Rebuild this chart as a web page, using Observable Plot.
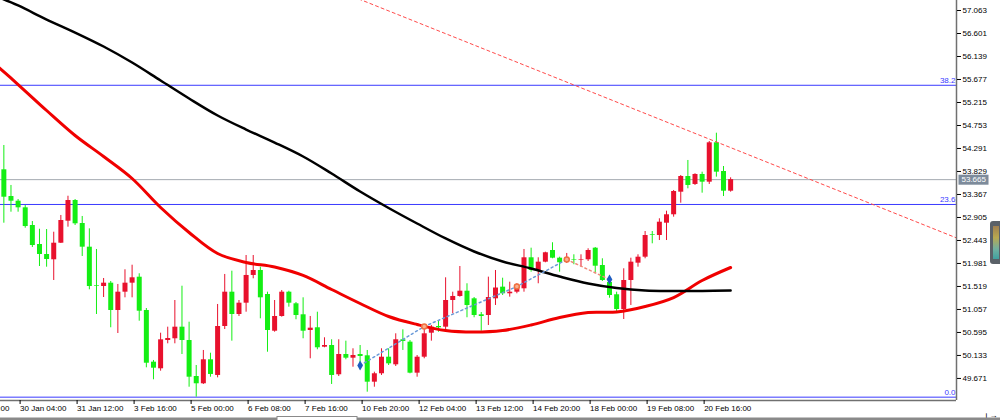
<!DOCTYPE html>
<html><head><meta charset="utf-8">
<script src="https://cdn.jsdelivr.net/npm/d3@7"></script>
<script src="https://cdn.jsdelivr.net/npm/@observablehq/plot@0.6"></script>
<style>
body{margin:0;background:#fff;}
#wrap{position:relative;width:1000px;height:420px;overflow:hidden;background:#fff;}
#wrap svg{display:block;}
#gadget{position:absolute;left:990px;top:221px;width:12px;height:43px;border-radius:3px;background:#5a6168;}
#gadget div{position:absolute;left:3px;top:5px;width:6px;height:33px;background:linear-gradient(#a08050,#b8a850 35%,#70b0a0 70%,#40a0a0);}
</style></head><body><div id="wrap"><div id="gadget"><div></div></div></div>
<script>
// ---- candles (H4 bars), first bar index = -2 ----
const firstBar = -2;
const open = [53.863,53.326,53.232,53.099,52.744,52.362,52.161,52.055,52.388,52.830,
53.246,52.784,52.308,51.532,51.518,51.585,51.036,51.404,51.585,51.705,
51.036,49.998,49.865,50.433,50.468,50.701,50.433,49.710,49.564,50.046,
49.731,50.715,51.404,50.956,51.183,51.740,51.840,51.358,50.620,50.916,
51.404,51.171,50.950,50.634,50.689,50.299,50.333,49.745,50.152,50.078,
50.152,50.126,49.596,49.765,50.098,49.945,50.448,50.400,49.777,50.098,
50.580,50.715,50.701,51.237,51.318,51.424,51.271,50.950,50.936,51.271,
51.505,51.372,51.404,51.472,52.095,51.840,52.007,52.242,52.087,52.041,
52.061,52.049,52.055,52.288,51.940,51.599,51.352,51.056,51.639,51.987,
52.107,52.557,52.543,52.790,52.959,53.413,53.728,53.568,53.769,53.614,
54.405,53.829,53.433];
const high = [54.351,53.548,53.266,53.145,52.824,52.669,52.663,52.609,52.945,53.332,
53.266,52.925,52.677,52.262,51.679,51.619,51.559,51.854,51.946,51.774,
51.076,50.032,50.580,50.701,51.237,51.524,50.801,49.931,50.233,50.178,
51.157,51.760,51.826,51.237,52.141,52.141,51.906,51.404,51.237,51.438,
51.424,51.197,51.291,50.916,51.002,50.488,50.448,50.448,50.420,50.267,
50.333,50.233,49.797,50.267,50.267,50.568,50.648,50.433,50.132,50.735,
50.735,50.835,51.693,51.404,51.920,51.573,51.297,50.996,51.706,51.840,
51.685,51.605,51.573,52.262,52.288,52.095,52.208,52.397,52.107,52.182,
52.155,52.155,52.276,52.302,52.075,51.740,51.404,51.874,52.087,52.155,
52.623,52.623,52.879,53.031,53.447,53.748,54.050,53.783,53.815,54.431,
54.598,53.929,53.702];
const low = [52.790,53.011,53.011,52.689,52.302,51.920,51.906,51.639,52.382,52.710,
52.744,52.121,51.452,50.956,51.297,50.689,50.574,51.291,51.291,50.821,
49.885,49.644,49.817,50.367,50.367,50.152,49.495,49.295,49.550,49.696,
49.683,50.654,50.420,50.916,51.002,51.673,50.869,50.198,50.600,50.902,
51.103,50.850,50.468,50.066,50.247,50.287,49.550,49.710,50.046,49.897,
49.845,49.395,49.495,49.731,49.931,49.911,50.233,49.764,49.696,50.066,
50.420,50.600,50.648,50.970,51.304,50.890,50.890,50.620,50.735,51.137,
51.338,51.304,51.372,51.404,51.806,51.573,51.995,52.075,51.806,51.981,
51.955,51.906,52.021,51.773,51.619,51.283,51.016,50.855,51.137,51.906,
52.075,52.376,52.442,52.442,52.911,53.192,53.481,53.548,53.393,53.568,
53.715,53.326,53.413];
const close = [53.312,53.232,53.099,52.723,52.342,52.161,52.061,52.388,52.844,53.246,
52.778,52.308,51.518,51.518,51.585,51.036,51.404,51.585,51.693,51.022,
49.977,49.877,50.447,50.474,50.701,50.433,49.696,49.564,50.046,49.751,
50.715,51.404,50.956,51.183,51.740,51.840,51.291,50.634,50.916,51.404,
51.183,50.936,50.620,50.681,50.287,50.333,49.731,50.152,50.078,50.132,
50.112,49.596,49.765,50.098,49.965,50.448,50.414,49.777,50.098,50.568,
50.701,50.689,51.237,51.318,51.424,51.137,50.936,50.916,51.297,51.488,
51.372,51.404,51.472,52.095,51.840,52.007,52.196,52.087,51.995,52.081,
52.049,52.061,52.242,51.926,51.639,51.337,51.056,51.639,52.007,52.107,
52.543,52.543,52.810,52.959,53.427,53.728,53.548,53.769,53.614,54.405,
53.815,53.433,53.665];

// ---- moving averages (bar index, value) ----
const maIndex = [-3,0,4,8,12,16,20,24,28,32,36,40,44,48,52,56,60,64,68,72,76,80,84,88,92,96,100];
const maSlow = [57.344,57.164,56.882,56.621,56.340,56.018,55.657,55.295,54.954,54.672,54.411,54.130,53.788,53.427,53.096,52.784,52.483,52.222,52.021,51.880,51.719,51.579,51.488,51.438,51.428,51.428,51.438];
const maFast = [55.958,55.576,55.054,54.552,54.130,53.688,53.105,52.603,52.181,52.001,51.910,51.740,51.458,51.177,50.916,50.755,50.634,50.604,50.634,50.745,50.896,50.996,51.006,51.117,51.297,51.639,51.900];

// ---- trend line and zigzag points ----
const trendIndex = [40, 131.6];
const trendPrice = [57.742, 52.500];
const zigIndex = [48, 57, 70, 77, 83];
const zigPrice = [49.931, 50.715, 51.518, 52.061, 51.659];

// ---- horizontal levels ----
const fibLevels = [55.561, 53.166, 49.295];
const fibLabels = ["38.2", "23.6", "0.0"];
const lastPrice = 53.665;

// ---- axes ----
const xDomain = [-2.47, 131.70];
const yDomain = [49.228, 57.264];
const yTicks = [57.063,56.601,56.139,55.677,55.215,54.753,54.291,53.829,53.367,52.905,52.443,51.981,51.519,51.057,50.595,50.133,49.671];
const xTickIndex = [-8,0,8,16,24,32,40,48,56,64,72,80,88,96];
const xTickLabels = ["28 Jan 20:00","30 Jan 04:00","31 Jan 12:00","3 Feb 16:00","5 Feb 00:00","6 Feb 08:00","7 Feb 16:00","10 Feb 20:00","12 Feb 04:00","13 Feb 12:00","14 Feb 20:00","18 Feb 00:00","19 Feb 08:00","20 Feb 16:00"];

const upColor = "#e8112d", downColor = "#14ee14";
const bars = open.map((o, k) => ({i: firstBar + k, o, h: high[k], l: low[k], c: close[k]}));
const colorOf = d => d.c > d.o ? upColor : downColor;
const slow = maIndex.map((i, k) => ({i, v: maSlow[k]}));
const fast = maIndex.map((i, k) => ({i, v: maFast[k]}));
const trend = trendIndex.map((i, k) => ({i, v: trendPrice[k]}));
const zig = zigIndex.map((i, k) => ({i, v: zigPrice[k]}));
const fibs = fibLevels.map((v, k) => ({v, label: fibLabels[k]}));
const labelOf = new Map(xTickIndex.map((d, k) => [d, xTickLabels[k]]));
const fmt = d3.format(".3f");

const svg = Plot.plot({
  width: 1000, height: 420,
  marginLeft: 0, marginRight: 44, marginTop: 0, marginBottom: 20,
  style: {fontFamily: "Liberation Sans, Arial, sans-serif", fontSize: "8px", background: "#fff", overflow: "hidden"},
  x: {domain: xDomain},
  y: {domain: yDomain},
  color: {type: "identity"},
  marks: [
    Plot.ruleY(fibs, {y: "v", stroke: "#3a3aff", strokeWidth: 1}),
    Plot.ruleY([lastPrice], {stroke: "#a3a9b0", strokeWidth: 1}),
    Plot.text(fibs, {x: xDomain[1], y: "v", text: "label", textAnchor: "end", dx: -1, dy: -5, fill: "#3a3aff", fontSize: 8}),
    Plot.ruleX(bars, {x: "i", y1: "l", y2: "h", stroke: colorOf, strokeWidth: 1}),
    Plot.ruleX(bars, {x: "i", y1: "o", y2: "c", stroke: colorOf, strokeWidth: 5}),
    Plot.line(fast, {x: "i", y: "v", stroke: "#f00000", strokeWidth: 3, curve: "catmull-rom", clip: true}),
    Plot.line(slow, {x: "i", y: "v", stroke: "#000", strokeWidth: 2.5, curve: "catmull-rom", clip: true}),
    Plot.line(trend, {x: "i", y: "v", stroke: "#ff4a4a", strokeWidth: 1, strokeDasharray: "3,3", clip: true}),
    Plot.line(zig.slice(0, 4), {x: "i", y: "v", stroke: "#6a9ad8", strokeWidth: 1.5, strokeDasharray: "2,3"}),
    Plot.line(zig.slice(3), {x: "i", y: "v", stroke: "#f08a7a", strokeWidth: 1.5, strokeDasharray: "2,3"}),
    Plot.dot(zig.slice(1, 4), {x: "i", y: "v", r: 2.5, stroke: "#f07040", strokeWidth: 1.5, fill: "#f8b090"}),
    Plot.dot([zig[0], zig[4]], {x: "i", y: "v", r: 3, symbol: "diamond", fill: "#1e5cc0"}),
    Plot.ruleX([xDomain[1]], {stroke: "#707070", strokeWidth: 1.5}),
    Plot.ruleY([yDomain[0]], {stroke: "#707070", strokeWidth: 1.5}),
    Plot.axisY(yTicks, {anchor: "right", tickSize: 4, tickPadding: 2, tickFormat: fmt, fontSize: 8, fill: "#000"}),
    Plot.axisX(xTickIndex, {anchor: "bottom", tickSize: 4, tickPadding: 1, tickFormat: d => labelOf.get(d), textAnchor: "start", dx: 2, fontSize: 8, fill: "#000"}),
    Plot.text([lastPrice], {x: xDomain[1], y: d => d, text: d => fmt(d), textAnchor: "start", dx: 5, fill: "#fff", fontSize: 8, className: "price-tag"})
  ]
});
const wrap = document.getElementById("wrap");
wrap.prepend(svg);
const ns = "http://www.w3.org/2000/svg";
let tag = svg.querySelector(".price-tag text");
if (!tag) { const gs = svg.querySelectorAll('g[aria-label="text"]'); if (gs.length) tag = gs[gs.length - 1].querySelector("text"); }
if (tag) {
  const b = tag.getBBox();
  const r = document.createElementNS(ns, "rect");
  r.setAttribute("x", b.x - 3); r.setAttribute("y", b.y - 0.5);
  r.setAttribute("width", b.width + 5); r.setAttribute("height", b.height + 1);
  r.setAttribute("fill", "#7d8b9b");
  if (tag.getAttribute("transform")) r.setAttribute("transform", tag.getAttribute("transform"));
  tag.parentNode.insertBefore(r, tag);
}
// bottom tab strip
const s1 = document.createElementNS(ns, "rect");
s1.setAttribute("x", 0); s1.setAttribute("y", 417.5); s1.setAttribute("width", 1000); s1.setAttribute("height", 3); s1.setAttribute("fill", "#8a8a8a");
svg.appendChild(s1);
const s2 = document.createElementNS(ns, "rect");
s2.setAttribute("x", 277); s2.setAttribute("y", 416.5); s2.setAttribute("width", 80); s2.setAttribute("height", 4); s2.setAttribute("fill", "#fff"); s2.setAttribute("stroke", "#8a8a8a");
svg.appendChild(s2);
</script></body></html>
